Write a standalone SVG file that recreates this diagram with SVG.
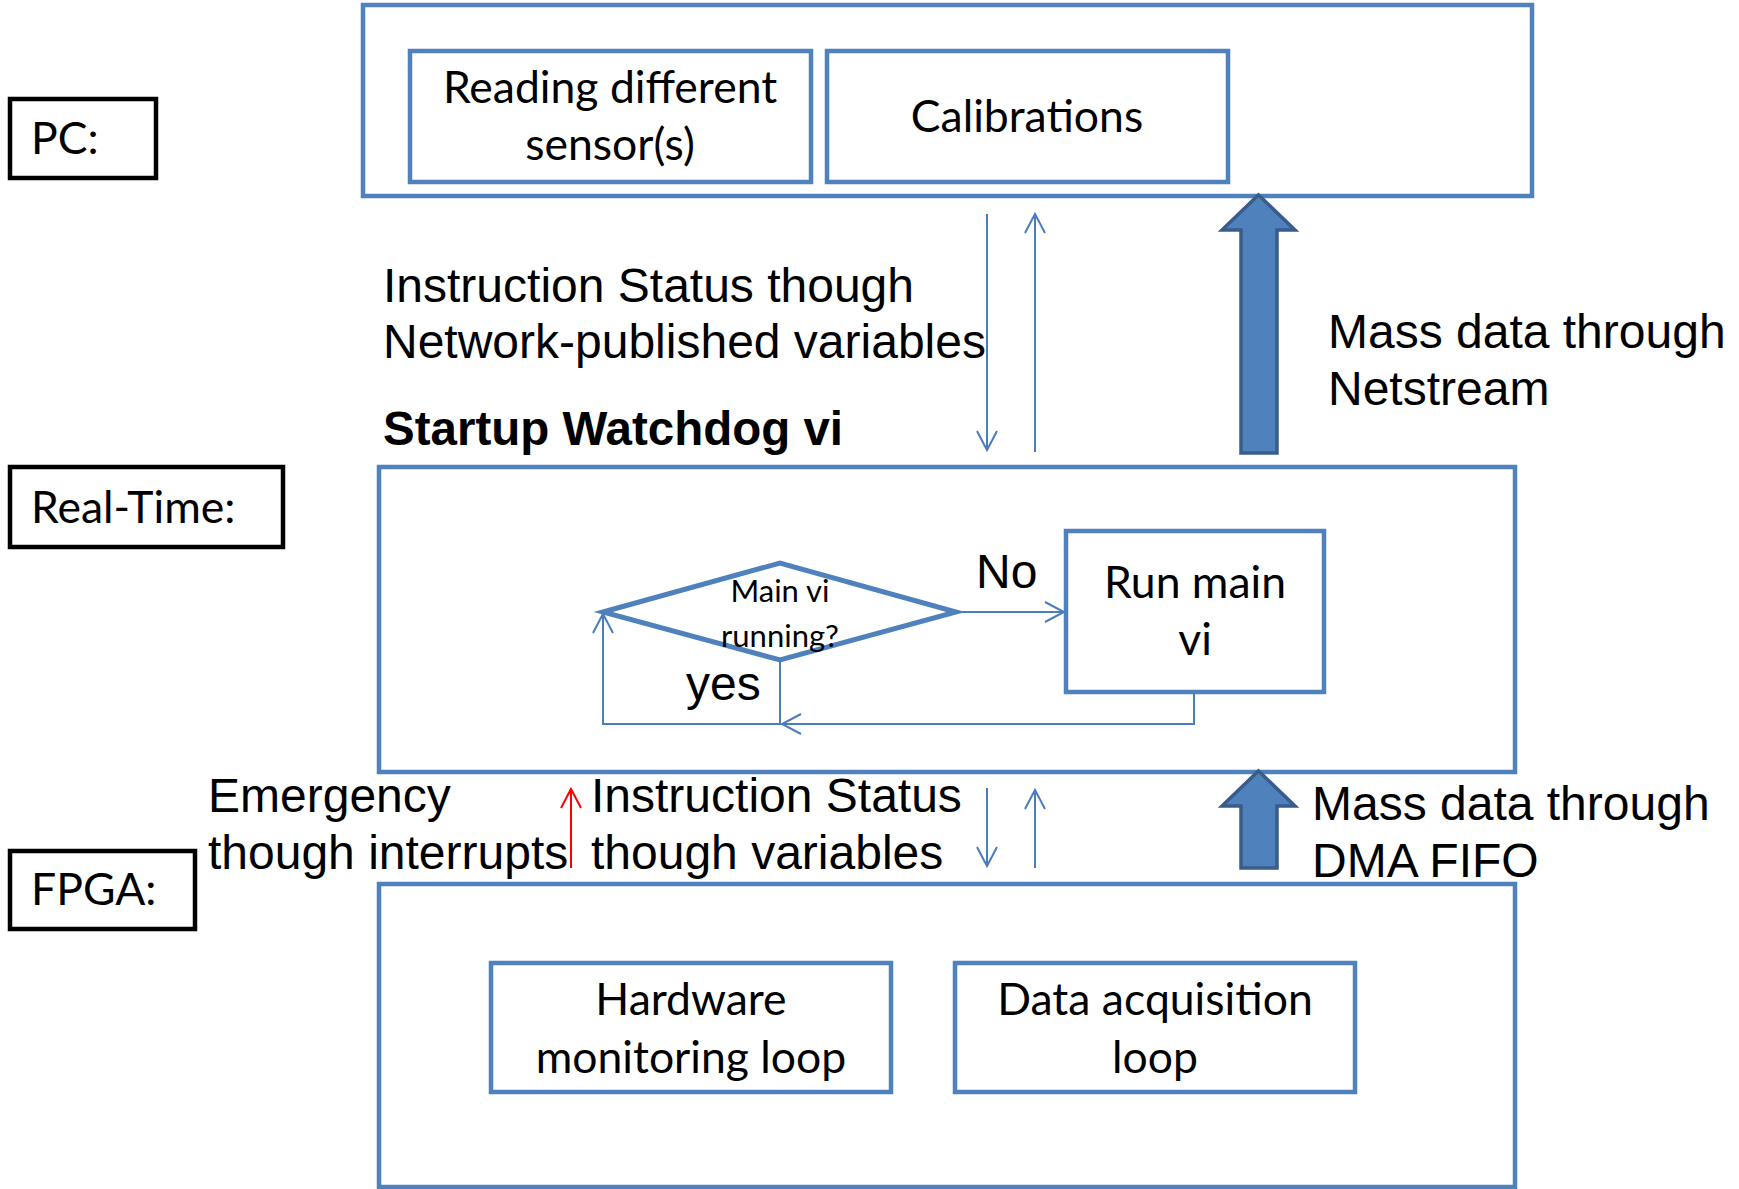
<svg xmlns="http://www.w3.org/2000/svg" width="1739" height="1189" viewBox="0 0 1739 1189">
<style>
.box{fill:none;stroke:#4F81BD;stroke-width:4.5}
.lbl{fill:#fff;stroke:#000;stroke-width:4.5}
.cal{font-family:Lato,"Open Sans",sans-serif;font-size:44.5px;fill:#000}
.ari{font-family:"Liberation Sans",Arial,sans-serif;font-size:48px;fill:#000}
.bold{font-weight:bold;font-size:47.5px}
.con{fill:none;stroke:#4A7EBB;stroke-width:2}
.red{fill:none;stroke:#FF0000;stroke-width:2}
.big{fill:#4F81BD;stroke:#385D8A;stroke-width:3.5;stroke-linejoin:miter}
</style>
<defs>
<marker id="ah" markerUnits="userSpaceOnUse" markerWidth="24" markerHeight="24" refX="20" refY="11" orient="auto">
<path d="M1,1 L20,11 L1,21" fill="none" stroke="#4A7EBB" stroke-width="2"/>
</marker>
<marker id="ahr" markerUnits="userSpaceOnUse" markerWidth="24" markerHeight="24" refX="20" refY="11" orient="auto">
<path d="M1,1 L20,11 L1,21" fill="none" stroke="#FF0000" stroke-width="2"/>
</marker>
</defs>

<g id="pc-label"><rect class="lbl" x="10" y="99" width="146" height="79"/><text class="cal" x="31" y="154">PC:</text></g>
<g id="rt-label"><rect class="lbl" x="10" y="467" width="273" height="80"/><text class="cal" x="31" y="523">Real-Time:</text></g>
<g id="fpga-label"><rect class="lbl" x="10" y="851" width="185" height="78"/><text class="cal" x="31" y="905">FPGA:</text></g>

<g id="pc"><rect class="box" x="363" y="5" width="1169" height="191"/></g>
<g id="reading"><rect class="box" x="410" y="51" width="401" height="131"/>
<text class="cal" text-anchor="middle" x="610" y="103">Reading different</text>
<text class="cal" text-anchor="middle" x="610" y="160">sensor(s)</text></g>
<g id="calibrations"><rect class="box" x="827" y="51" width="401" height="131"/>
<text class="cal" text-anchor="middle" x="1027" y="132">Calibrations</text></g>

<g id="realtime"><rect class="box" x="379" y="467" width="1136" height="305"/></g>
<g id="decision"><polygon points="603,612 780,563 956,612 780,660" fill="none" stroke="#4F81BD" stroke-width="5"/>
<text class="cal" text-anchor="middle" x="780" y="602" style="font-size:31px">Main vi</text>
<text class="cal" text-anchor="middle" x="780" y="647" style="font-size:31px">running?</text></g>
<g id="runmain"><rect class="box" x="1066" y="531" width="258" height="161"/>
<text class="cal" text-anchor="middle" x="1195" y="598">Run main</text>
<text class="cal" text-anchor="middle" x="1195" y="655">vi</text></g>

<g id="fpga"><rect class="box" x="379" y="884" width="1136" height="303"/></g>
<g id="hardware"><rect class="box" x="491" y="963" width="400" height="129"/>
<text class="cal" text-anchor="middle" x="691" y="1015">Hardware</text>
<text class="cal" text-anchor="middle" x="691" y="1073">monitoring loop</text></g>
<g id="daq"><rect class="box" x="955" y="963" width="400" height="129"/>
<text class="cal" text-anchor="middle" x="1155" y="1015">Data acquisition</text>
<text class="cal" text-anchor="middle" x="1155" y="1073">loop</text></g>

<g id="connectors">
<line class="con" x1="987" y1="214" x2="987" y2="450" marker-end="url(#ah)"/>
<line class="con" x1="1035" y1="452" x2="1035" y2="214" marker-end="url(#ah)"/>
<line class="con" x1="987" y1="788" x2="987" y2="866" marker-end="url(#ah)"/>
<line class="con" x1="1035" y1="868" x2="1035" y2="790" marker-end="url(#ah)"/>
<line class="red" x1="571" y1="868" x2="571" y2="789" marker-end="url(#ahr)"/>
<line class="con" x1="956" y1="612" x2="1064" y2="612" marker-end="url(#ah)"/>
<polyline class="con" points="780,660 780,724 603,724 603,614" marker-end="url(#ah)"/>
<polyline class="con" points="1194,693 1194,724 782,724" marker-end="url(#ah)"/>
<polygon class="big" points="1258.5,195 1295,230 1277,230 1277,453 1241,453 1241,230 1222,230"/>
<polygon class="big" points="1258.5,771 1295,806 1277,806 1277,868 1241,868 1241,806 1222,806"/>
</g>

<g id="labels">
<text class="ari" x="383" y="302">Instruction Status though</text>
<text class="ari" x="383" y="358">Network-published variables</text>
<text class="ari bold" x="383" y="445">Startup Watchdog vi</text>
<text class="ari" x="1328" y="348">Mass data through</text>
<text class="ari" x="1328" y="405">Netstream</text>
<text class="ari" x="976" y="588">No</text>
<text class="ari" x="686" y="700">yes</text>
<text class="ari" x="208" y="812">Emergency</text>
<text class="ari" x="208" y="869">though interrupts</text>
<text class="ari" x="591" y="812">Instruction Status</text>
<text class="ari" x="591" y="869">though variables</text>
<text class="ari" x="1312" y="820">Mass data through</text>
<text class="ari" x="1312" y="877">DMA FIFO</text>
</g>
</svg>
